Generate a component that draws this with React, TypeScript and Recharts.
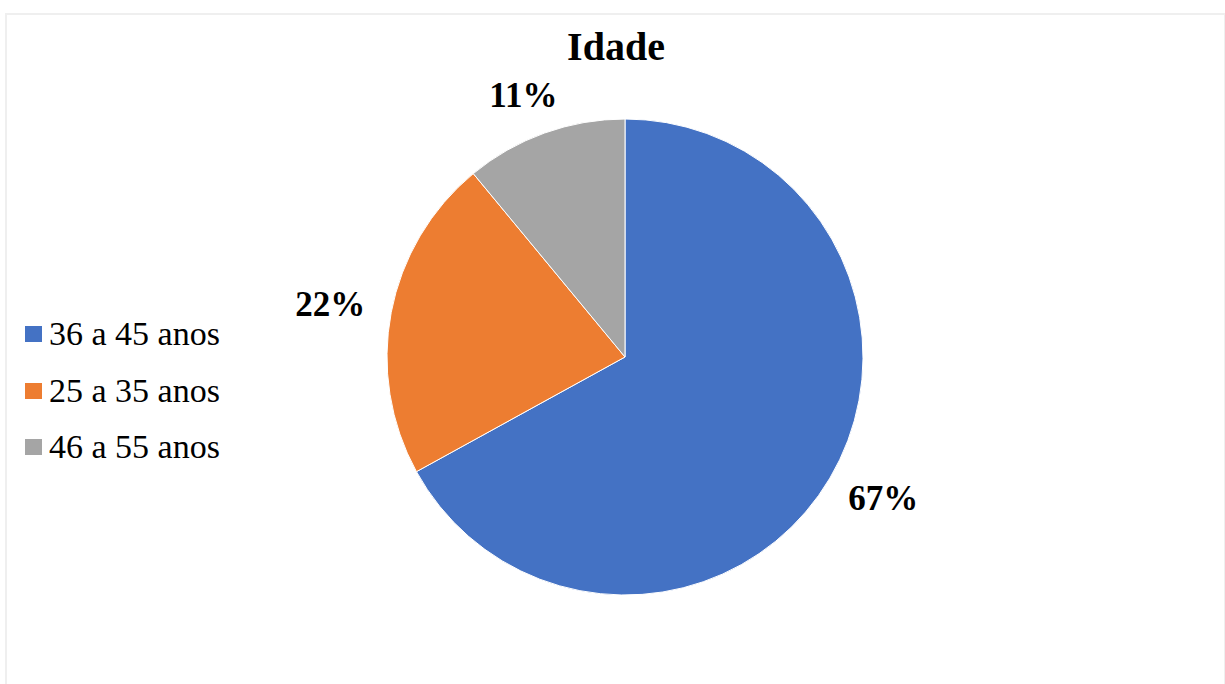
import { PieChart, Pie, Cell, Legend } from 'recharts';

const faixas = ['36 a 45 anos', '25 a 35 anos', '46 a 55 anos'];
const percentuais = [67, 22, 11];
const cores = ['#4472C4', '#ED7D31', '#A5A5A5'];

const dados = faixas.map((nome, i) => ({ nome, valor: percentuais[i] }));

const SERIF = '"Liberation Serif", "Times New Roman", serif';
const RAD = Math.PI / 180;

// rótulo em % fora da fatia, caixa encostada na borda (tipo Excel)
function rotulo(p: any) {
  const c = Math.cos(-p.midAngle * RAD);
  const s = Math.sin(-p.midAngle * RAD);
  const r = p.outerRadius + 22;
  const x = p.cx + r * c + c * 40;
  const y = p.cy + r * s + s * 18;
  return (
    <text
      x={x}
      y={y}
      textAnchor="middle"
      dominantBaseline="central"
      fontFamily={SERIF}
      fontWeight="bold"
      fontSize={35}
      fill="#000"
    >
      {p.value}%
    </text>
  );
}

function Legenda() {
  return (
    <div style={{ fontFamily: SERIF }}>
      {faixas.map((f, i) => (
        <div
          key={f}
          style={{ display: 'flex', alignItems: 'center', height: 56.5, whiteSpace: 'nowrap' }}
        >
          <span
            style={{ width: 17, height: 16, background: cores[i], marginRight: 7, display: 'inline-block' }}
          />
          <span style={{ fontFamily: SERIF, fontSize: 34, color: '#000', lineHeight: 1 }}>{f}</span>
        </div>
      ))}
    </div>
  );
}

export default function App() {
  return (
    <div style={{ position: 'absolute', left: 0, top: 0, width: 1225, height: 684, background: '#fff', overflow: 'hidden' }}>
      <div
        style={{
          position: 'absolute',
          left: 5,
          top: 13,
          width: 1217,
          height: 700,
          border: '2px solid #efefef',
        }}
      />
      <div
        style={{
          position: 'absolute',
          left: 0,
          width: 1232,
          top: 24,
          textAlign: 'center',
          fontFamily: SERIF,
          fontWeight: 'bold',
          fontSize: 40,
          lineHeight: '46px',
        }}
      >
        Idade
      </div>
      <PieChart width={1225} height={684} style={{ position: 'absolute', left: 0, top: 0 }}>
        <Pie
          data={dados}
          dataKey="valor"
          nameKey="nome"
          cx={620}
          cy={352}
          outerRadius={238}
          startAngle={90}
          endAngle={-270}
          stroke="#fff"
          strokeWidth={1}
          label={rotulo}
          labelLine={false}
          isAnimationActive={false}
        >
          {dados.map((d, i) => (
            <Cell key={d.nome} fill={cores[i]} />
          ))}
        </Pie>
        <Legend
          content={() => <Legenda />}
          wrapperStyle={{ position: 'absolute', left: 25, top: 306, width: 260, fontFamily: SERIF }}
        />
      </PieChart>
    </div>
  );
}
